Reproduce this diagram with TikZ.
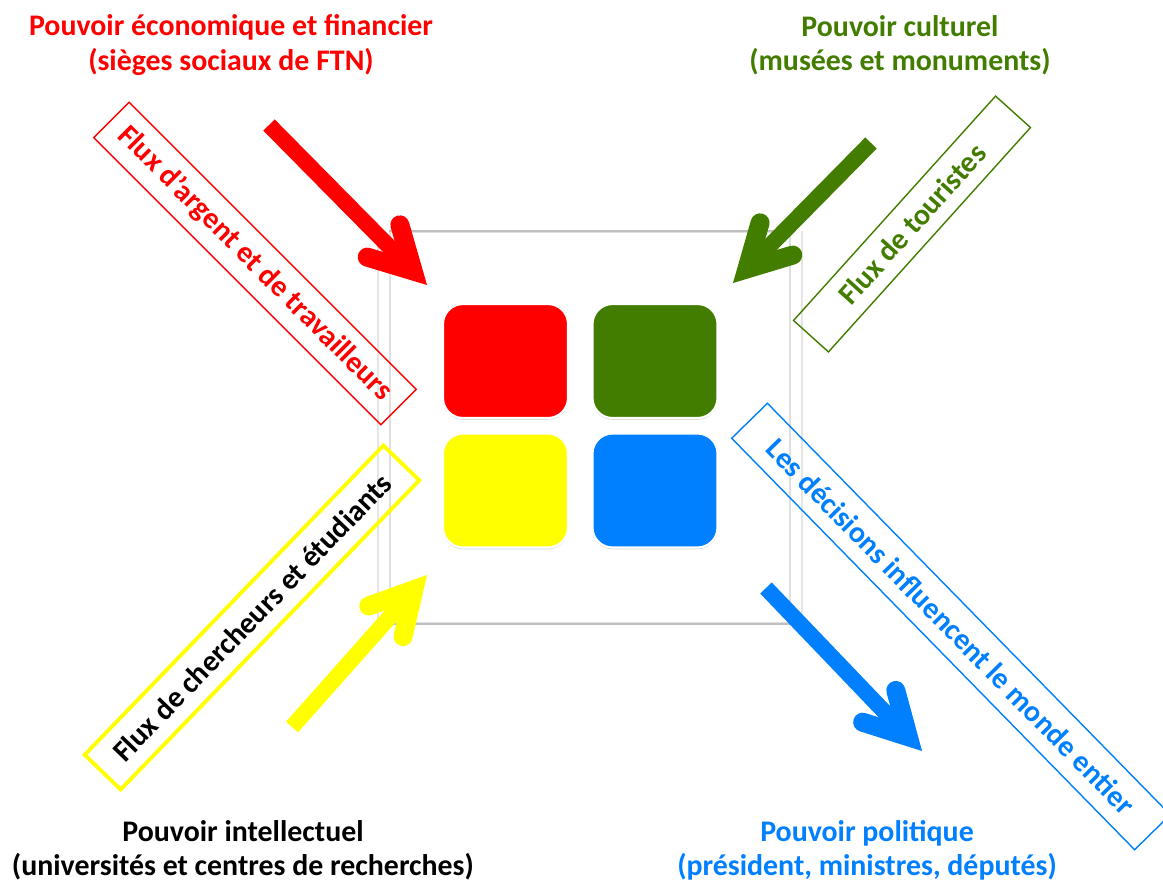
\documentclass[tikz,border=0pt]{standalone}
\usepackage{fontspec}
\setmainfont{Carlito}
\usetikzlibrary{calc,shadows}
\definecolor{rouge}{RGB}{255,0,0}
\definecolor{vert}{RGB}{66,125,0}
\definecolor{jaune}{RGB}{255,255,0}
\definecolor{bleu}{RGB}{0,128,255}
\tikzset{
  titre/.style={align=center,inner sep=0pt,font=\bfseries\fontsize{17}{19.5}\selectfont},
  etiquette/.style={draw,inner sep=0pt,minimum height=1cm,font=\bfseries\fontsize{17}{19.5}\selectfont},
  carre/.style={draw=white,line width=1.2pt,rounded corners=0.4cm,minimum width=2.5cm,minimum height=2.28cm,
    drop shadow={opacity=0.3,shadow xshift=0pt,shadow yshift=-1pt}},
  fleche/.style={line width=0.32cm},
  pointe/.style={line width=0.38cm,line cap=round,line join=miter}
}
\newcommand\grossefleche[3]{%
  \draw[fleche,#1,shorten >=0.45cm] (#2) -- (#3);
  \draw[pointe,#1]
    ($(#3)!1.32cm!20.35:(#2)$) -- ($(#3)!0.396cm!(#2)$) -- ($(#3)!1.32cm!-20.35:(#2)$);
}
\begin{document}
\begin{tikzpicture}[x=0.02cm,y=-0.02cm]
  \useasboundingbox (0,0) rectangle (1163,883);
  \clip (0,0) rectangle (1163,883);

  \node[draw=gray!25,line width=1pt,minimum width=8cm,minimum height=7.82cm,inner sep=0pt] (cadre) at (590,427.5) {};
  \draw[gray!50,line width=1.3pt] (cadre.north west) -- (cadre.north east);
  \draw[gray!50,line width=1.3pt] (cadre.south west) -- (cadre.south east);
  \draw[gray!20,line width=0.8pt] ([xshift=-0.22cm]cadre.north west) -- ([xshift=-0.22cm]cadre.south west);
  \draw[gray!20,line width=0.8pt] ([xshift=0.22cm]cadre.north east) -- ([xshift=0.22cm]cadre.south east);

  \node[carre,fill=rouge] (carreRouge) at (505.5,361) {};
  \node[carre,fill=vert] (carreVert) at (655,361) {};
  \node[carre,fill=jaune] (carreJaune) at (505.5,490.5) {};
  \node[carre,fill=bleu] (carreBleu) at (655,490.5) {};

  \coordinate (rougeA) at (269,125);
  \coordinate (rougeB) at (427,285);
  \coordinate (vertA) at (871,143);
  \coordinate (vertB) at (733,283);
  \coordinate (jauneA) at (292,727);
  \coordinate (jauneB) at (427,575);
  \coordinate (bleuA) at (766,588);
  \coordinate (bleuB) at (922,751);
  \grossefleche{rouge}{rougeA}{rougeB}
  \grossefleche{vert}{vertA}{vertB}
  \grossefleche{jaune}{jauneA}{jauneB}
  \grossefleche{bleu}{bleuA}{bleuB}

  \node[etiquette,rouge,line width=0.8pt,minimum width=8.12cm,rotate=-45] (fluxArgent) at (255,263.5) {Flux d’argent et de travailleurs};
  \node[etiquette,vert,line width=0.8pt,minimum width=6.04cm,minimum height=0.94cm,rotate=48] (fluxTouristes) at (912,224) {Flux de touristes};
  \node[etiquette,draw=jaune,text=black,line width=2.2pt,minimum width=8.6cm,rotate=46] (fluxChercheurs) at (252,617.5) {Flux de chercheurs et étudiants};
  \node[etiquette,bleu,line width=0.8pt,minimum width=11.52cm,rotate=-45.6] (decisions) at (951,626.5) {Les décisions influencent le monde entier};

  \node[titre,rouge] (pouvEco) at (231,45) {Pouvoir économique et financier\\(sièges sociaux de FTN)};
  \node[titre,vert] (pouvCult) at (900,45) {Pouvoir culturel\\(musées et monuments)};
  \node[titre] (pouvIntel) at (243,850) {Pouvoir intellectuel\\(universités et centres de recherches)};
  \node[titre,bleu] (pouvPol) at (867,850) {Pouvoir politique\\(président, ministres, députés)};
\end{tikzpicture}
\end{document}
